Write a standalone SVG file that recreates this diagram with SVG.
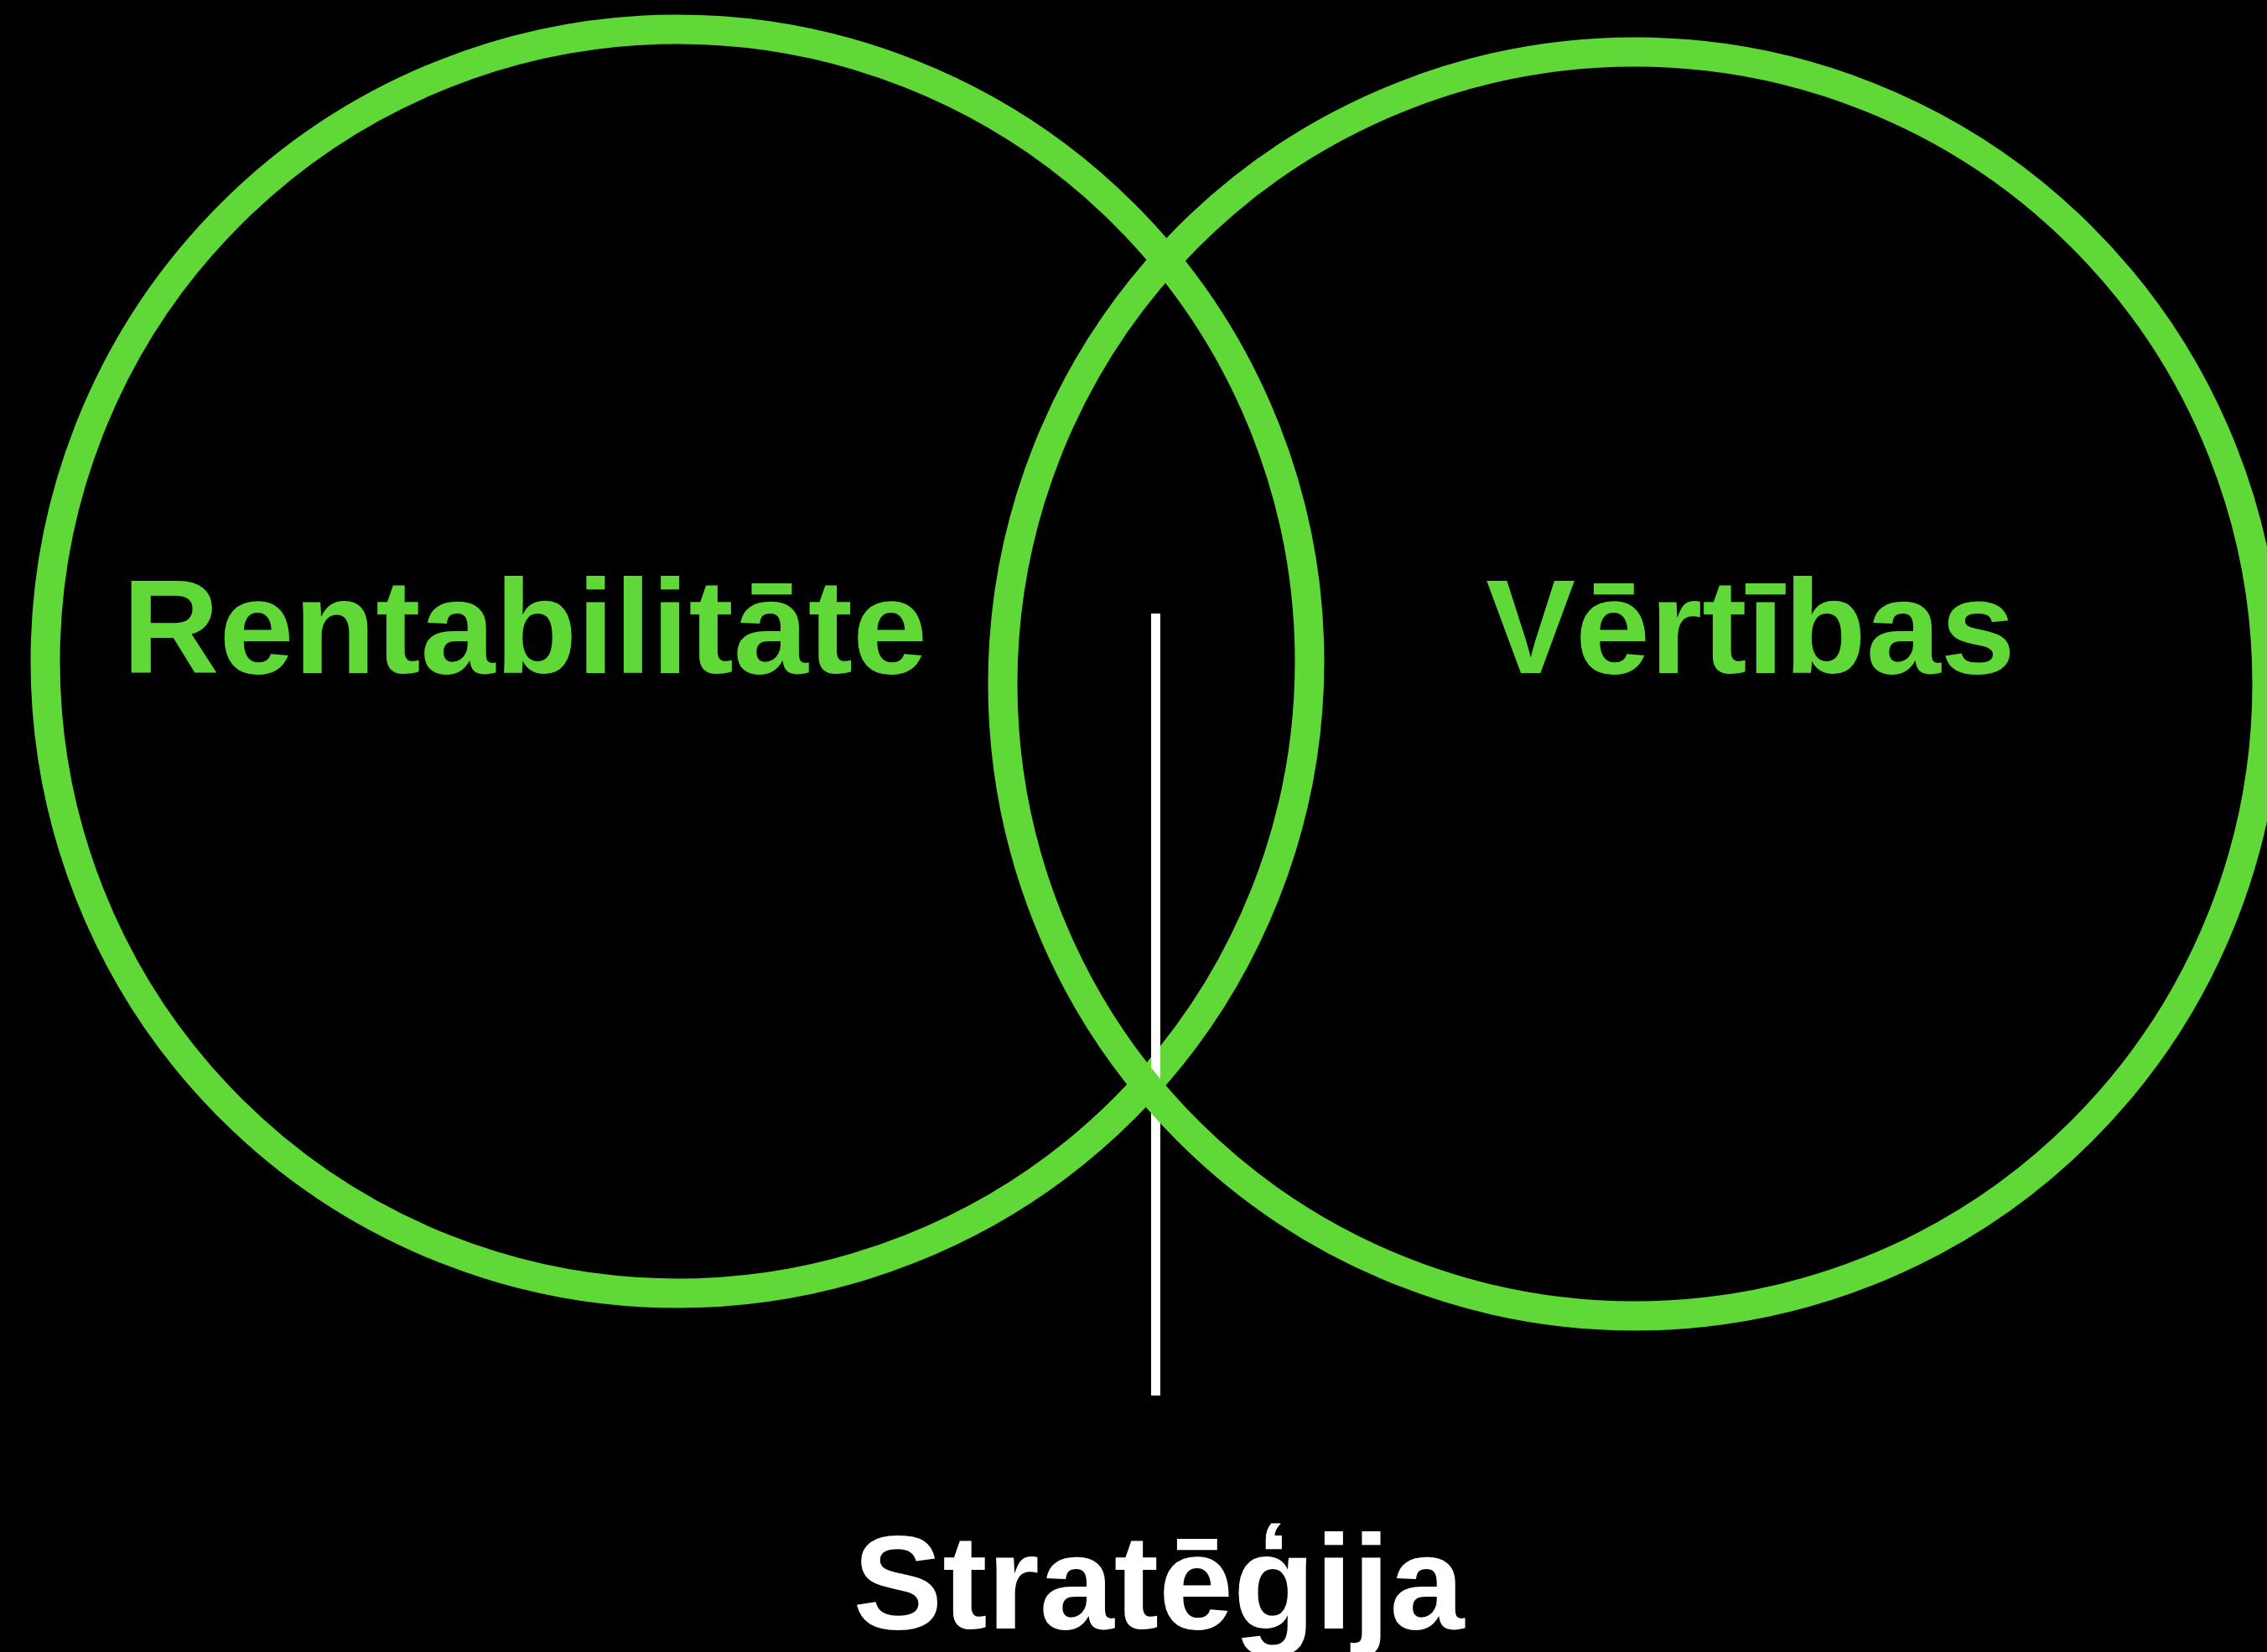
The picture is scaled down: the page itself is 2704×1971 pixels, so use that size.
<svg xmlns="http://www.w3.org/2000/svg" width="2704" height="1971" viewBox="0 0 2704 1971">
  <style>
    .ring { fill: none; stroke: #5fd838; stroke-width: 35; }
    .lbl { font-family: "Liberation Sans", Arial, sans-serif; font-weight: bold; font-size: 160px; text-anchor: middle; }
    .green { fill: #5fd838; }
    .white { fill: #ffffff; }
    .divider { stroke: #ffffff; stroke-width: 11; }
  </style>
  <rect x="0" y="0" width="2704" height="1971" fill="#000000"/>
  <g id="node-rentabilitate">
    <circle class="ring" cx="808" cy="789" r="754"/>
    <text class="lbl green" x="626" y="803">Rentabilitāte</text>
  </g>
  <g id="connectors">
    <line class="divider" x1="1378.5" y1="732" x2="1378.5" y2="1665"/>
  </g>
  <g id="node-vertibas">
    <circle class="ring" cx="1950" cy="816" r="754"/>
    <text class="lbl green" x="2088" y="803">Vērtības</text>
  </g>
  <g id="node-strategija">
    <text class="lbl white" x="1382" y="1943">Stratēģija</text>
  </g>
</svg>
